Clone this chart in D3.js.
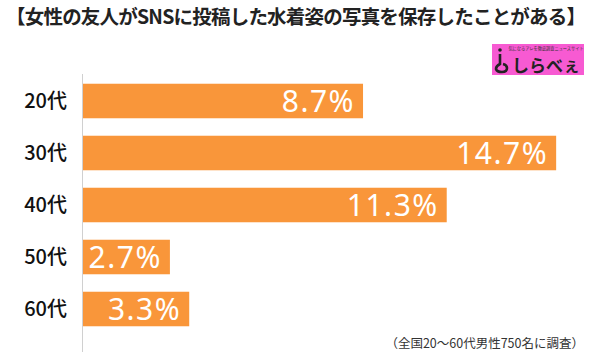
<!DOCTYPE html>
<html>
<head>
<meta charset="utf-8">
<script src="https://cdn.jsdelivr.net/npm/d3@7"></script>
<style>
  body { margin: 0; background: #fff; }
  svg { display: block; }
</style>
</head>
<body>
<svg id="chart" width="600" height="352"></svg>
<script>
// data
const ages = ["20代", "30代", "40代", "50代", "60代"];
const percents = [8.7, 14.7, 11.3, 2.7, 3.3];
const titleText = "【女性の友人がSNSに投稿した水着姿の写真を保存したことがある】";
const noteText = "（全国20～60代男性750名に調査）";

const svg = d3.select("svg#chart");
const jp = "'Noto Sans CJK JP', 'Noto Sans', sans-serif";

// scales
const xScale = d3.scaleLinear().domain([0, 16]).range([83, 598]);
const yScale = d3.scaleBand().domain(ages).range([75, 335])
                 .paddingInner(0.336).paddingOuter(0.168);

// title
svg.append("text")
   .attr("x", 6).attr("y", 24)
   .attr("font-family", jp).attr("font-weight", "bold")
   .attr("font-size", 19.5).attr("fill", "#222")
   .attr("textLength", 580)
   .text(titleText);

// logo
const logo = svg.append("g").attr("class", "logo");
logo.append("rect")
    .attr("x", 492).attr("y", 44).attr("width", 92).attr("height", 31)
    .attr("fill", "#f75ad2");
logo.append("text")
    .attr("x", 546).attr("y", 49.5).attr("text-anchor", "middle")
    .attr("font-family", jp).attr("font-size", 4.2).attr("fill", "#333")
    .text("気になるアレを徹底調査ニュースサイト");
logo.append("circle").attr("cx", 500).attr("cy", 50).attr("r", 1.8).attr("fill", "#222");
logo.append("path")
    .attr("d", "M500,54 L500,64 Q496,66 496,69 Q497,72 502,72 Q507,72 507,68 Q507,65 503,64")
    .attr("fill", "none").attr("stroke", "#222").attr("stroke-width", 2.6);
logo.append("text")
    .attr("x", 512).attr("y", 71.5)
    .attr("font-family", jp).attr("font-weight", "bold")
    .attr("font-size", 17).attr("fill", "#222")
    .text("しらべぇ");

// axis line
svg.append("line")
   .attr("x1", 82.5).attr("x2", 82.5).attr("y1", 74).attr("y2", 352)
   .attr("stroke", "#d0d0d0").attr("stroke-width", 1);

// bars
const barArea = svg.append("g").attr("class", "chart");
const rows = ages.map((a, i) => ({ age: a, value: percents[i] }));

barArea.selectAll("rect.bar")
       .data(rows)
       .join("rect")
       .attr("class", "bar")
       .attr("x", xScale(0))
       .attr("y", d => yScale(d.age))
       .attr("width", d => xScale(d.value) - xScale(0))
       .attr("height", yScale.bandwidth())
       .attr("fill", "#f9963a");

barArea.selectAll("text.val")
       .data(rows)
       .join("text")
       .attr("class", "val")
       .attr("x", d => xScale(d.value) - 8)
       .attr("y", d => yScale(d.age) + yScale.bandwidth() / 2)
       .attr("dy", "0.36em")
       .attr("text-anchor", "end")
       .attr("font-family", "'Noto Sans', sans-serif")
       .attr("font-size", 30)
       .attr("letter-spacing", 1.5)
       .attr("fill", "#fff")
       .text(d => d.value.toFixed(1) + "%");

// category labels
svg.append("g").selectAll("text.cat")
   .data(ages)
   .join("text")
   .attr("class", "cat")
   .attr("x", 67)
   .attr("y", d => yScale(d) + yScale.bandwidth() / 2)
   .attr("dy", "0.36em")
   .attr("text-anchor", "end")
   .attr("font-family", jp)
   .attr("font-weight", 500)
   .attr("font-size", 20)
   .attr("fill", "#111")
   .text(d => d);

// footnote
svg.append("text")
   .attr("x", 584).attr("y", 348)
   .attr("text-anchor", "end")
   .attr("font-family", jp).attr("font-size", 12.5).attr("fill", "#333")
   .text(noteText);
</script>
</body>
</html>
